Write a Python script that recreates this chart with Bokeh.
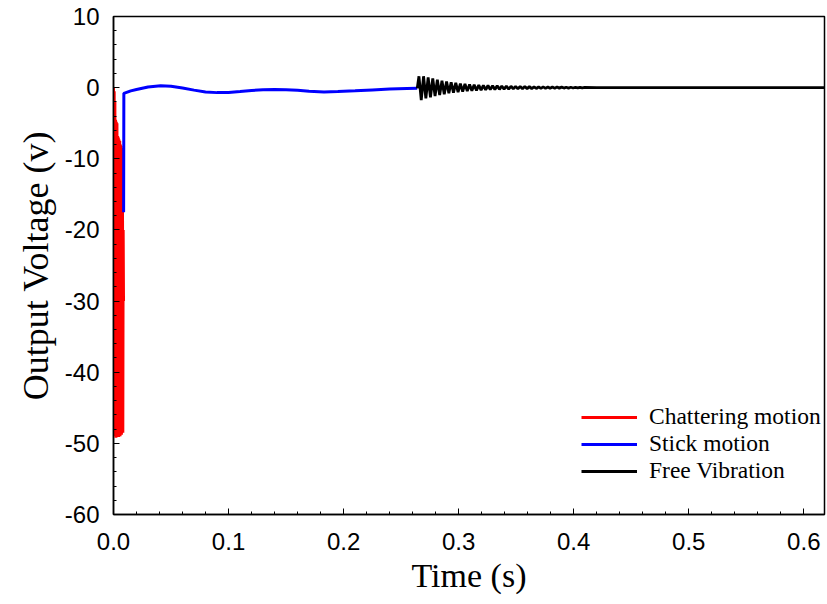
from bokeh.plotting import figure
from bokeh.models import Range1d, FixedTicker, Legend, LegendItem
from bokeh.embed import file_html
from bokeh.resources import INLINE

# ---------------- data ----------------
red_t = [0.0000, 0.0003, 0.0006, 0.0009, 0.0012, 0.0015, 0.0018, 0.0021, 0.0024, 0.0027,
         0.0030, 0.0033, 0.0036, 0.0039, 0.0042, 0.0045, 0.0048, 0.0051, 0.0054, 0.0057,
         0.0060, 0.0063, 0.0066, 0.0069, 0.0072, 0.0075, 0.0078, 0.0081, 0.0084, 0.0087]
red_v = [0.0, -48.5, -0.5, -49.0, -2.0, -48.8, -4.5, -49.2, -4.8, -48.6,
         -5.0, -49.0, -6.8, -48.4, -7.0, -49.1, -7.3, -48.7, -7.5, -49.0,
         -8.0, -48.2, -8.2, -48.8, -8.5, -47.5, -12.0, -48.5, -20.0, -30.0]

blue_t = [0.0088, 0.0090, 0.015, 0.020, 0.030, 0.041, 0.050, 0.060, 0.070, 0.080,
          0.090, 0.095, 0.100, 0.110, 0.120, 0.130, 0.140, 0.150, 0.160, 0.170,
          0.183, 0.195, 0.210, 0.225, 0.240, 0.255, 0.264]
blue_v = [-17.5, -0.8, -0.45, -0.25, 0.10, 0.28, 0.20, -0.05, -0.35, -0.60,
          -0.70, -0.70, -0.68, -0.55, -0.40, -0.30, -0.25, -0.28, -0.38, -0.50,
          -0.60, -0.55, -0.45, -0.32, -0.20, -0.12, -0.10]

black_t = [0.264, 0.2655, 0.2675, 0.2695, 0.2715, 0.2735, 0.2755, 0.2775, 0.2795, 0.2815,
           0.2835, 0.2855, 0.2875, 0.2895, 0.2915, 0.2935, 0.2955, 0.2975, 0.2995, 0.3015,
           0.3035, 0.3055, 0.3075, 0.3095, 0.3115, 0.3135, 0.3155, 0.3175, 0.3195, 0.3215,
           0.3235, 0.3255, 0.3275, 0.3295, 0.3315, 0.3335, 0.3355, 0.3375, 0.3395, 0.3415,
           0.3435, 0.3455, 0.3475, 0.3495, 0.3515, 0.3535, 0.3555, 0.3575, 0.3595, 0.3615,
           0.3635, 0.3655, 0.3675, 0.3695, 0.3715, 0.3735, 0.3755, 0.3775, 0.3795, 0.3815,
           0.3835, 0.3855, 0.3875, 0.3895, 0.3915, 0.3935, 0.3955, 0.3975, 0.3995, 0.4015,
           0.4035, 0.4055, 0.4075, 0.4095, 0.42, 0.62]
black_v = [-0.10, 1.60, -1.75, 1.60, -1.50, 1.45, -1.35, 1.28, -1.20, 1.12,
           -1.05, 0.98, -0.92, 0.86, -0.80, 0.75, -0.70, 0.66, -0.62, 0.58,
           -0.55, 0.52, -0.49, 0.46, -0.43, 0.41, -0.39, 0.37, -0.35, 0.33,
           -0.31, 0.30, -0.28, 0.27, -0.26, 0.25, -0.24, 0.23, -0.22, 0.21,
           -0.20, 0.19, -0.18, 0.18, -0.17, 0.16, -0.16, 0.15, -0.14, 0.14,
           -0.13, 0.12, -0.12, 0.11, -0.11, 0.10, -0.10, 0.09, -0.09, 0.08,
           -0.08, 0.08, -0.07, 0.07, -0.06, 0.06, -0.06, 0.05, -0.05, 0.05,
           -0.04, 0.04, -0.04, 0.03, 0.0, 0.0]

x_ticks = [0.0, 0.1, 0.2, 0.3, 0.4, 0.5, 0.6]
y_ticks = [-60, -50, -40, -30, -20, -10, 0, 10]
series_names = ["Chattering motion", "Stick motion", "Free Vibration"]

# ---------------- figure ----------------
p = figure(width=827, height=604, output_backend="svg", toolbar_location=None,
           x_range=Range1d(0.0, 0.618), y_range=Range1d(-60, 10),
           min_border_left=113, min_border_right=3, min_border_top=16, min_border_bottom=90)
p.background_fill_color = "white"
p.border_fill_color = "white"
p.outline_line_color = "black"
p.outline_line_width = 1.5
p.xgrid.visible = False
p.ygrid.visible = False

r_red = p.line(red_t, red_v, line_color="#ff0000", line_width=3)
r_blue = p.line(blue_t, blue_v, line_color="#0000ff", line_width=3)
r_black = p.line(black_t, black_v, line_color="black", line_width=2.8)

for ax in (p.xaxis[0], p.yaxis[0]):
    ax.axis_line_color = "black"
    ax.axis_line_width = 1.5
    ax.major_tick_in = 6
    ax.major_tick_out = 0
    ax.minor_tick_in = 3
    ax.minor_tick_out = 0
    ax.major_tick_line_color = "black"
    ax.minor_tick_line_color = "black"
    ax.major_label_text_font = "Liberation Sans"
    ax.major_label_text_font_size = "24px"
    ax.major_label_text_color = "black"
    ax.axis_label_text_font = "Liberation Serif"
    ax.axis_label_text_font_style = "normal"
    ax.axis_label_text_color = "black"

p.xaxis.ticker = FixedTicker(ticks=x_ticks, minor_ticks=[i * 0.02 for i in range(0, 32)])
p.yaxis.ticker = FixedTicker(ticks=y_ticks, minor_ticks=list(range(-60, 12, 2)))
p.xaxis.major_label_overrides = {t: f"{t:.1f}" for t in x_ticks}
p.yaxis.major_label_overrides = {t: str(t) for t in y_ticks}
p.xaxis.axis_label = "Time (s)"
p.yaxis.axis_label = "Output Voltage (v)"
p.xaxis.axis_label_text_font_size = "34px"
p.yaxis.axis_label_text_font_size = "36px"
p.xaxis.major_label_standoff = 18
p.yaxis.major_label_standoff = 14
p.xaxis.axis_label_standoff = 4
p.yaxis.axis_label_standoff = 6

legend = Legend(items=[LegendItem(label=series_names[0], renderers=[r_red]),
                       LegendItem(label=series_names[1], renderers=[r_blue]),
                       LegendItem(label=series_names[2], renderers=[r_black])],
                location=(462, 24))
legend.label_text_font = "Liberation Serif"
legend.label_text_font_size = "23.5px"
legend.label_text_color = "black"
legend.glyph_width = 56
legend.glyph_height = 20
legend.label_height = 20
legend.label_standoff = 12
legend.spacing = 0
legend.padding = 6
legend.margin = 0
legend.border_line_alpha = 0
legend.background_fill_alpha = 0
p.add_layout(legend)

open("out.html", "w").write(file_html(p, INLINE))
